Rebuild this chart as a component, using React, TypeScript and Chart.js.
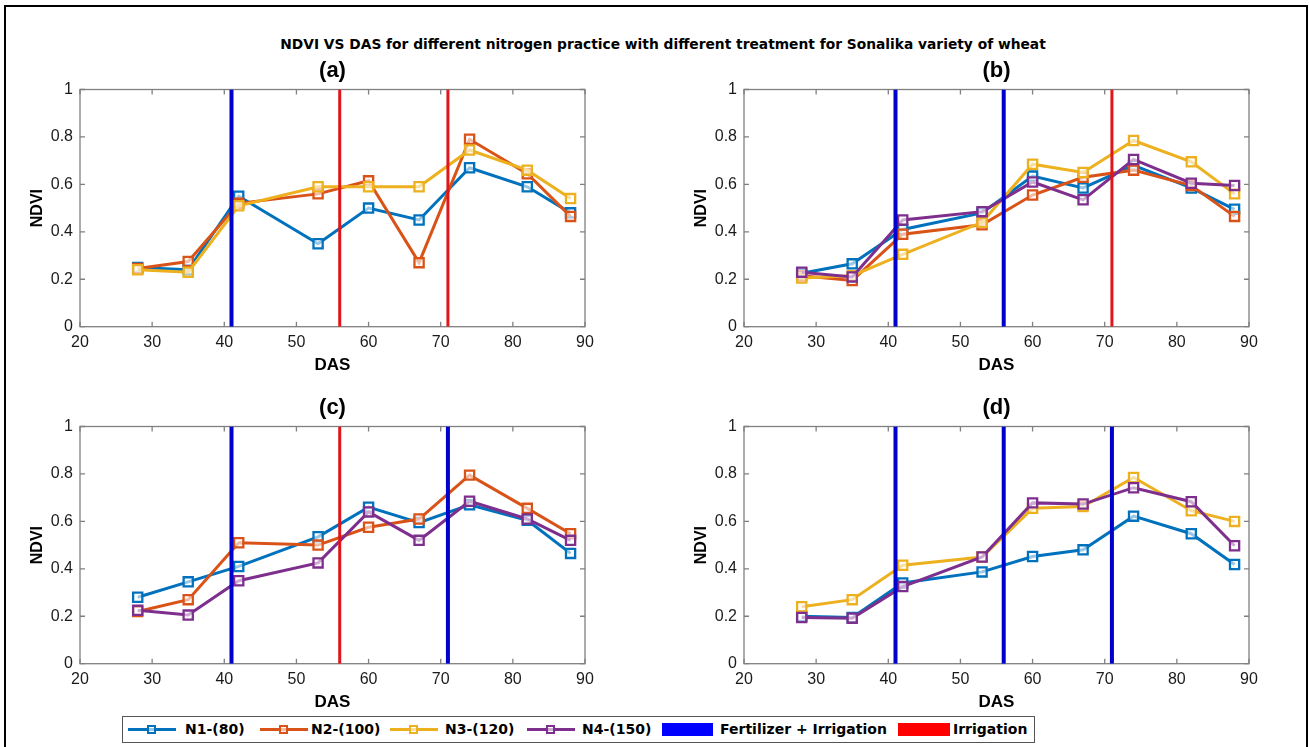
import React, { useEffect, useRef } from 'react';
import { Chart, registerables } from 'chart.js';

Chart.register(...registerables);

// Days after sowing at which NDVI was sampled
const DAS = [28, 35, 42, 53, 60, 67, 74, 82, 88];

// Panel (a)
const A_N1 = [0.25, 0.24, 0.55, 0.35, 0.5, 0.45, 0.67, 0.59, 0.48];
const A_N2 = [0.245, 0.275, 0.52, 0.56, 0.615, 0.27, 0.79, 0.645, 0.465];
const A_N3 = [0.24, 0.23, 0.51, 0.59, 0.59, 0.59, 0.745, 0.66, 0.54];
const A_FERT = [41];
const A_IRR = [56, 71];

// Panel (b)
const B_N1 = [0.225, 0.265, 0.41, 0.48, 0.635, 0.585, 0.68, 0.585, 0.495];
const B_N2 = [0.215, 0.195, 0.39, 0.43, 0.555, 0.63, 0.66, 0.595, 0.465];
const B_N3 = [0.205, 0.215, 0.305, 0.44, 0.685, 0.65, 0.785, 0.695, 0.56];
const B_N4 = [0.23, 0.21, 0.45, 0.485, 0.61, 0.535, 0.705, 0.605, 0.595];
const B_FERT = [41, 56];
const B_IRR = [71];

// Panel (c)
const C_N1 = [0.28, 0.345, 0.41, 0.535, 0.66, 0.595, 0.67, 0.605, 0.465];
const C_N2 = [0.22, 0.27, 0.51, 0.5, 0.575, 0.61, 0.795, 0.655, 0.548];
const C_N4 = [0.225, 0.205, 0.35, 0.425, 0.64, 0.52, 0.685, 0.61, 0.52];
const C_FERT = [41, 71];
const C_IRR = [56];

// Panel (d)
const D_N1 = [0.2, 0.195, 0.34, 0.387, 0.452, 0.48, 0.622, 0.548, 0.418];
const D_N3 = [0.24, 0.27, 0.415, 0.45, 0.655, 0.663, 0.785, 0.645, 0.6];
const D_N4 = [0.195, 0.192, 0.325, 0.45, 0.678, 0.673, 0.742, 0.683, 0.497];
const D_FERT = [41, 56, 71];
const D_IRR: number[] = [];

const SERIES_NAMES = ['N1-(80)', 'N2-(100)', 'N3-(120)', 'N4-(150)'];
const EVENT_NAMES = ['Fertilizer + Irrigation', 'Irrigation'];
const MAIN_TITLE =
  'NDVI VS DAS for different nitrogen practice with different treatment for Sonalika variety of wheat';
const X_LABEL = 'DAS';
const Y_LABEL = 'NDVI';

const SERIES_COLORS = ['#0072BD', '#D95319', '#EDB120', '#7E2F8E'];
const FERT_LINE = '#0000cc';
const IRR_LINE = '#e0161b';
const FERT_PATCH = '#0000ff';
const IRR_PATCH = '#ff0000';
const AXIS_GRAY = '#808080';
const SANS = '"Liberation Sans", Arial, Helvetica, sans-serif';
const WIDE_SANS = '"DejaVu Sans", Verdana, sans-serif';

const CANVAS_W = 635;
const CANVAS_H = 330;

// Draws the boxed axes with inward tick marks on all four sides
const boxAxes = {
  id: 'boxAxes',
  beforeDatasetsDraw(chart: any) {
    const { ctx, chartArea } = chart;
    const { left, right, top, bottom } = chartArea;
    const xs = chart.scales.x;
    const ys = chart.scales.y;
    const tl = 5;
    ctx.save();
    ctx.strokeStyle = AXIS_GRAY;
    ctx.lineWidth = 1.3;
    ctx.strokeRect(left, top, right - left, bottom - top);
    ctx.beginPath();
    xs.ticks.forEach((t: any) => {
      const px = xs.getPixelForValue(t.value);
      ctx.moveTo(px, bottom);
      ctx.lineTo(px, bottom - tl);
      ctx.moveTo(px, top);
      ctx.lineTo(px, top + tl);
    });
    ys.ticks.forEach((t: any) => {
      const py = ys.getPixelForValue(t.value);
      ctx.moveTo(left, py);
      ctx.lineTo(left + tl, py);
      ctx.moveTo(right, py);
      ctx.lineTo(right - tl, py);
    });
    ctx.stroke();
    ctx.restore();
  },
};

type PanelProps = {
  title: string;
  series: (number[] | null)[];
  fert: number[];
  irr: number[];
  left: number;
  top: number;
};

function Panel({ title, series, fert, irr, left, top }: PanelProps) {
  const ref = useRef<HTMLCanvasElement>(null);

  useEffect(() => {
    if (!ref.current) return;
    const datasets: any[] = [];
    const vline = (day: number, color: string, width: number) => ({
      data: [
        { x: day, y: 0 },
        { x: day, y: 1 },
      ],
      borderColor: color,
      borderWidth: width,
      pointRadius: 0,
      order: 0,
    });
    fert.forEach((d) => datasets.push(vline(d, FERT_LINE, 4)));
    irr.forEach((d) => datasets.push(vline(d, IRR_LINE, 3)));
    series.forEach((vals, i) => {
      if (!vals) return;
      datasets.push({
        label: SERIES_NAMES[i],
        data: DAS.map((x, j) => ({ x, y: vals[j] })),
        borderColor: SERIES_COLORS[i],
        borderWidth: 3,
        pointStyle: 'rect',
        pointRadius: 6.5,
        pointBorderWidth: 2.3,
        pointBorderColor: SERIES_COLORS[i],
        pointBackgroundColor: 'rgba(255,255,255,0.6)',
        tension: 0,
        order: 10 - i,
      });
    });

    const tickFont = { family: SANS, size: 16 };
    const chart = new Chart(ref.current, {
      type: 'line',
      data: { datasets },
      plugins: [boxAxes],
      options: {
        animation: false,
        responsive: false,
        events: [],
        layout: { padding: { left: 0, right: 50, top: 0, bottom: 0 } },
        plugins: {
          legend: { display: false },
          tooltip: { enabled: false },
          title: {
            display: true,
            text: title,
            fullSize: false,
            color: '#000',
            font: { family: SANS, size: 22, weight: 'bold', lineHeight: 1.2 },
            padding: { top: 7.3, bottom: 5.8 },
          },
        },
        scales: {
          x: {
            type: 'linear',
            min: 20,
            max: 90,
            grid: { display: false, drawTicks: false },
            border: { display: false },
            ticks: {
              stepSize: 10,
              color: '#1a1a1a',
              font: tickFont,
              padding: 6.7,
              maxRotation: 0,
              autoSkip: false,
            },
            title: {
              display: true,
              text: X_LABEL,
              color: '#000',
              font: { family: SANS, size: 17, weight: 'bold', lineHeight: 1.2 },
              padding: { top: 0, bottom: 4.8 },
            },
            afterFit: (s: any) => {
              s.height = 53.3;
            },
          },
          y: {
            type: 'linear',
            min: 0,
            max: 1,
            grid: { display: false, drawTicks: false },
            border: { display: false },
            ticks: {
              stepSize: 0.2,
              color: '#1a1a1a',
              font: tickFont,
              padding: 7,
              callback: (v: any) => String(Number(Number(v).toFixed(1))),
            },
            title: {
              display: true,
              text: Y_LABEL,
              color: '#000',
              font: { family: SANS, size: 16, weight: 'bold', lineHeight: 1.2 },
              padding: { top: 27.9, bottom: 0 },
            },
            afterFit: (s: any) => {
              s.width = 80;
            },
          },
        },
      } as any,
    });
    return () => chart.destroy();
  }, []);

  return (
    <canvas
      ref={ref}
      width={CANVAS_W}
      height={CANVAS_H}
      style={{ position: 'absolute', left, top, width: CANVAS_W, height: CANVAS_H }}
    />
  );
}

function LegendLine({ color, left }: { color: string; left: number }) {
  return (
    <div style={{ position: 'absolute', left, top: 728, width: 48, height: 3, background: color }}>
      <div
        style={{
          position: 'absolute',
          left: 19,
          top: -3,
          width: 9,
          height: 9,
          boxSizing: 'border-box',
          border: `2px solid ${color}`,
          background: 'rgba(255,255,255,0.6)',
        }}
      />
    </div>
  );
}

function LegendText({ text, left }: { text: string; left: number }) {
  return (
    <div
      style={{
        position: 'absolute',
        left,
        top: 716,
        height: 27,
        lineHeight: '27px',
        fontFamily: WIDE_SANS,
        fontWeight: 'bold',
        fontSize: 14,
        color: '#000',
        whiteSpace: 'nowrap',
      }}
    >
      {text}
    </div>
  );
}

export default function App() {
  useEffect(() => {
    document.body.style.margin = '0';
  }, []);

  const lineStarts = [128, 260, 390, 527];
  const textStarts = [185, 311, 445, 582];

  return (
    <div
      style={{
        position: 'relative',
        width: 1309,
        height: 747,
        overflow: 'hidden',
        background: '#fff',
      }}
    >
      <div
        style={{
          position: 'absolute',
          left: 4,
          top: 5,
          width: 1304,
          height: 800,
          boxSizing: 'border-box',
          border: '2px solid #000',
        }}
      />
      <div
        style={{
          position: 'absolute',
          left: 663,
          top: 36,
          transform: 'translateX(-50%)',
          fontFamily: WIDE_SANS,
          fontWeight: 'bold',
          fontSize: 13.8,
          lineHeight: '16px',
          whiteSpace: 'nowrap',
          color: '#000',
        }}
      >
        {MAIN_TITLE}
      </div>

      <Panel title="(a)" series={[A_N1, A_N2, A_N3, null]} fert={A_FERT} irr={A_IRR} left={0} top={50} />
      <Panel title="(b)" series={[B_N1, B_N2, B_N3, B_N4]} fert={B_FERT} irr={B_IRR} left={664} top={50} />
      <Panel title="(c)" series={[C_N1, C_N2, null, C_N4]} fert={C_FERT} irr={C_IRR} left={0} top={387.2} />
      <Panel title="(d)" series={[D_N1, null, D_N3, D_N4]} fert={D_FERT} irr={D_IRR} left={664} top={387.2} />

      <div
        style={{
          position: 'absolute',
          left: 122,
          top: 716,
          width: 913,
          height: 27,
          boxSizing: 'border-box',
          border: '1px solid #555',
          background: '#fff',
        }}
      />
      {SERIES_NAMES.map((name, i) => (
        <React.Fragment key={name}>
          <LegendLine color={SERIES_COLORS[i]} left={lineStarts[i]} />
          <LegendText text={name} left={textStarts[i]} />
        </React.Fragment>
      ))}
      <div style={{ position: 'absolute', left: 662, top: 723, width: 51, height: 13, background: FERT_PATCH }} />
      <LegendText text={EVENT_NAMES[0]} left={720} />
      <div style={{ position: 'absolute', left: 898, top: 723, width: 52, height: 13, background: IRR_PATCH }} />
      <LegendText text={EVENT_NAMES[1]} left={953} />
    </div>
  );
}
